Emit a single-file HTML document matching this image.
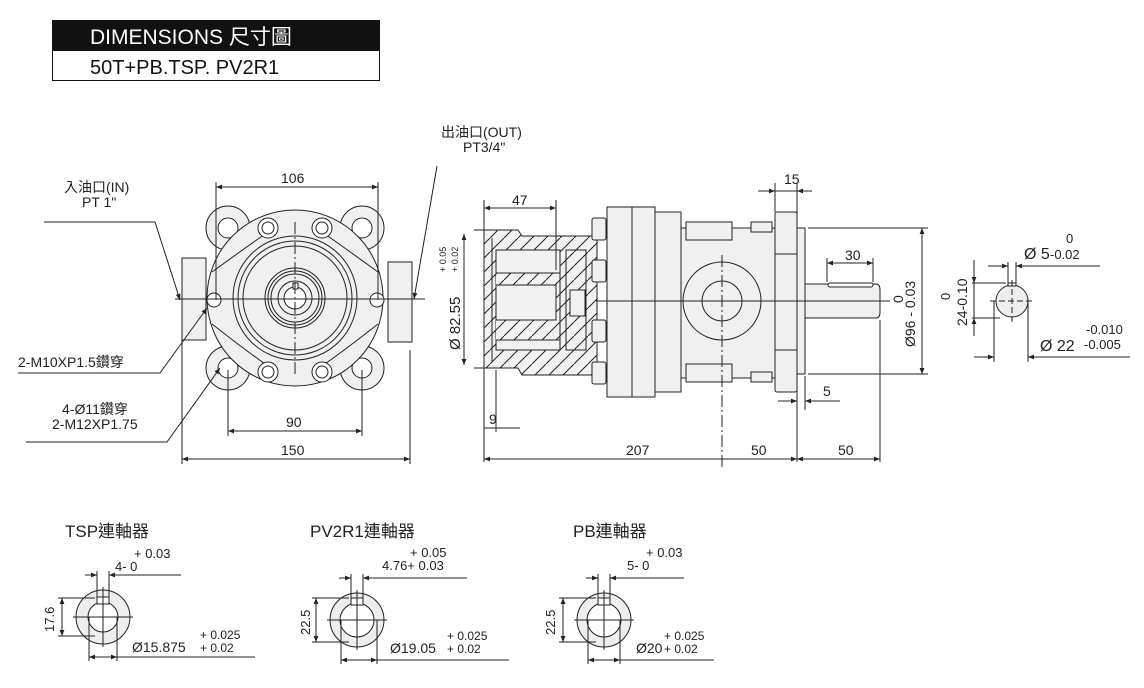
<!DOCTYPE html>
<html><head><meta charset="utf-8"><style>
html,body{margin:0;padding:0;background:#fff;}
svg{display:block;font-family:"Liberation Sans","Noto Sans CJK TC",sans-serif;}
</style></head><body>
<svg width="1144" height="688" viewBox="0 0 1144 688" xmlns="http://www.w3.org/2000/svg">
<defs>
<marker id="a" viewBox="0 0 10 10" refX="10" refY="5" markerWidth="9" markerHeight="6" orient="auto-start-reverse" markerUnits="userSpaceOnUse"><path d="M0,1 L10,5 L0,9 z" fill="#222"/></marker>
<pattern id="h" width="14" height="14" patternUnits="userSpaceOnUse"><rect width="14" height="14" fill="#f2f2f2"/><path d="M0,14 L14,0" stroke="#222" stroke-width="1"/></pattern>
</defs>
<!-- header -->
<rect x="52" y="20" width="328" height="30" fill="#111"/>
<rect x="52.5" y="50.5" width="327" height="30" fill="#fff" stroke="#111"/>
<text x="90" y="44" fill="#fff" font-size="21">DIMENSIONS  尺寸圖</text>
<text x="90" y="74" fill="#111" font-size="20">50T+PB.TSP.  PV2R1</text>

<g stroke="#222" stroke-width="1" fill="none">
<!-- FRONT VIEW -->
<rect x="182" y="258" width="24" height="82" fill="#f0f0f0"/>
<rect x="388" y="262" width="24" height="80" fill="#f0f0f0"/>
<circle cx="228" cy="228" r="22" fill="#f0f0f0"/><circle cx="228" cy="228" r="10" fill="#fff"/>
<circle cx="362" cy="228" r="22" fill="#f0f0f0"/><circle cx="362" cy="228" r="10" fill="#fff"/>
<circle cx="228" cy="368" r="22" fill="#f0f0f0"/><circle cx="228" cy="368" r="10" fill="#fff"/>
<circle cx="362" cy="368" r="22" fill="#f0f0f0"/><circle cx="362" cy="368" r="10" fill="#fff"/>
<circle cx="295" cy="298" r="88" fill="#f0f0f0"/>
<path d="M212,272 Q245,248 268,232 M378,272 Q345,248 322,232 M212,324 Q245,350 268,366 M378,324 Q345,350 322,366"/>
<circle cx="268" cy="228" r="10" fill="#fff"/><circle cx="268" cy="228" r="6"/>
<circle cx="322" cy="228" r="10" fill="#fff"/><circle cx="322" cy="228" r="6"/>
<circle cx="268" cy="372" r="10" fill="#fff"/><circle cx="268" cy="372" r="6"/>
<circle cx="322" cy="372" r="10" fill="#fff"/><circle cx="322" cy="372" r="6"/>
<circle cx="295" cy="298" r="62"/><circle cx="295" cy="298" r="57"/><circle cx="295" cy="298" r="52"/>
<circle cx="295" cy="298" r="30"/><circle cx="295" cy="298" r="27"/><circle cx="295" cy="298" r="24"/><circle cx="295" cy="298" r="17"/><circle cx="295" cy="298" r="11" fill="#fff"/>
<rect x="293" y="283" width="5" height="6" fill="#fff"/>
<circle cx="214" cy="300" r="7" fill="#fff"/><circle cx="377" cy="300" r="7" fill="#fff"/>
<line x1="175" y1="299" x2="425" y2="299"/><line x1="295" y1="222" x2="295" y2="375" stroke-dasharray="12,3,2,3"/>
<!-- front dims -->
<line x1="216" y1="182" x2="216" y2="300"/><line x1="378" y1="182" x2="378" y2="300"/>
<line x1="216" y1="187" x2="378" y2="187" marker-start="url(#a)" marker-end="url(#a)"/>
<line x1="228" y1="370" x2="228" y2="436"/><line x1="362" y1="370" x2="362" y2="436"/>
<line x1="228" y1="431" x2="362" y2="431" marker-start="url(#a)" marker-end="url(#a)"/>
<line x1="182" y1="340" x2="182" y2="464"/><line x1="410" y1="350" x2="410" y2="464"/>
<line x1="182" y1="459" x2="410" y2="459" marker-start="url(#a)" marker-end="url(#a)"/>
<!-- leaders -->
<polyline points="44,222 155,222 180,300" marker-end="url(#a)"/>
<polyline points="18,373 160,373 207,308" marker-end="url(#a)"/>
<polyline points="26,442 167,442 220,368" marker-end="url(#a)"/>
<polyline points="437,166 414,299" marker-end="url(#a)"/>

<!-- SIDE VIEW -->
<path d="M484,230 L518,230 L522,236 L597,236 L597,375 L522,375 L518,368 L484,368 Z" fill="url(#h)"/>
<rect x="496" y="250" width="64" height="100" fill="#f2f2f2"/>
<path d="M496,273 L560,273 L560,340 L496,340" fill="url(#h)"/>
<rect x="496" y="285" width="60" height="35" fill="#f2f2f2"/>
<rect x="566" y="250" width="20" height="100" fill="url(#h)"/>
<rect x="570" y="290" width="15" height="26" fill="#f2f2f2"/>
<line x1="492" y1="238" x2="492" y2="362"/>
<rect x="592" y="218" width="14" height="22" rx="2" fill="#f0f0f0"/>
<rect x="592" y="260" width="14" height="22" rx="2" fill="#f0f0f0"/>
<rect x="592" y="320" width="14" height="22" rx="2" fill="#f0f0f0"/>
<rect x="592" y="362" width="14" height="22" rx="2" fill="#f0f0f0"/>
<rect x="607" y="207" width="48" height="190" fill="#f0f0f0"/><line x1="632" y1="207" x2="632" y2="397"/>
<rect x="655" y="212" width="26" height="180" fill="#f0f0f0"/>
<rect x="681" y="228" width="94" height="150" fill="#f0f0f0"/>
<rect x="686" y="222" width="46" height="18" fill="#f0f0f0"/><rect x="686" y="364" width="46" height="18" fill="#f0f0f0"/>
<rect x="751" y="222" width="21" height="10" fill="#f0f0f0"/><rect x="751" y="372" width="21" height="10" fill="#f0f0f0"/>
<circle cx="722" cy="301" r="39"/><circle cx="722" cy="301" r="20"/>
<rect x="775" y="212" width="22" height="180" rx="2" fill="#f0f0f0"/>
<line x1="775" y1="254" x2="797" y2="254"/><line x1="775" y1="350" x2="797" y2="350"/>
<rect x="797" y="228" width="8" height="146" fill="#f0f0f0"/>
<path d="M805,284 L876,284 Q880,284 880,290 L880,312 Q880,318 876,318 L805,318 Z" fill="#f0f0f0"/>
<rect x="828" y="283" width="45" height="4" rx="2" fill="#fff"/>
<line x1="596" y1="301" x2="890" y2="301"/><line x1="722" y1="255" x2="722" y2="470" stroke-dasharray="12,3,2,3"/>
<!-- side dims -->
<line x1="484" y1="200" x2="484" y2="462"/><line x1="556" y1="200" x2="556" y2="270"/>
<line x1="484" y1="208" x2="556" y2="208" marker-start="url(#a)" marker-end="url(#a)"/>
<line x1="474" y1="230" x2="484" y2="230"/><line x1="474" y1="368" x2="484" y2="368"/>
<line x1="464" y1="234" x2="464" y2="365" marker-start="url(#a)" marker-end="url(#a)"/>
<line x1="496" y1="370" x2="496" y2="432"/>
<line x1="484" y1="428" x2="496" y2="428"/><line x1="496" y1="428" x2="520" y2="428"/>
<line x1="775" y1="183" x2="775" y2="212"/><line x1="797" y1="183" x2="797" y2="462"/>
<line x1="758" y1="191" x2="775" y2="191" marker-end="url(#a)"/><line x1="812" y1="191" x2="797" y2="191" marker-end="url(#a)"/>
<line x1="775" y1="191" x2="797" y2="191"/>
<line x1="827" y1="258" x2="827" y2="282"/><line x1="873" y1="258" x2="873" y2="282"/>
<line x1="827" y1="263" x2="873" y2="263" marker-start="url(#a)" marker-end="url(#a)"/>
<line x1="808" y1="228" x2="928" y2="228"/><line x1="808" y1="374" x2="928" y2="374"/>
<line x1="922" y1="228" x2="922" y2="374" marker-start="url(#a)" marker-end="url(#a)"/>
<line x1="805" y1="376" x2="805" y2="410"/>
<line x1="778" y1="401" x2="797" y2="401" marker-end="url(#a)"/><line x1="840" y1="401" x2="805" y2="401" marker-end="url(#a)"/>
<line x1="880" y1="320" x2="880" y2="462"/>
<line x1="484" y1="459" x2="797" y2="459" marker-start="url(#a)" marker-end="url(#a)"/>
<line x1="797" y1="459" x2="880" y2="459" marker-start="url(#a)" marker-end="url(#a)"/>

<!-- KEY VIEW -->
<circle cx="1012" cy="301" r="16" fill="#eee"/>
<rect x="1008" y="283" width="8" height="3" fill="#fff"/>
<line x1="990" y1="301" x2="1034" y2="301" stroke-dasharray="6,3"/><line x1="1012" y1="280" x2="1012" y2="322" stroke-dasharray="6,3"/>
<line x1="1008" y1="262" x2="1008" y2="283"/><line x1="1016" y1="262" x2="1016" y2="283"/>
<line x1="988" y1="266" x2="1008" y2="266" marker-end="url(#a)"/><line x1="1035" y1="266" x2="1016" y2="266" marker-end="url(#a)"/><line x1="1035" y1="266" x2="1100" y2="266"/>
<line x1="972" y1="283" x2="1006" y2="283"/><line x1="972" y1="318" x2="1000" y2="318"/>
<line x1="974" y1="260" x2="974" y2="336"/><line x1="974" y1="270" x2="974" y2="283" marker-end="url(#a)"/><line x1="974" y1="330" x2="974" y2="318" marker-end="url(#a)"/>
<line x1="994" y1="301" x2="994" y2="362"/><line x1="1028" y1="301" x2="1028" y2="362"/>
<line x1="974" y1="357" x2="994" y2="357" marker-end="url(#a)"/><line x1="1050" y1="357" x2="1028" y2="357" marker-end="url(#a)"/><line x1="1050" y1="357" x2="1130" y2="357"/>
</g>

<!-- couplings -->
<g transform="translate(103,617)" stroke="#222" stroke-width="1" fill="none">
<circle r="27" fill="#eee"/><circle r="15" fill="#fff"/>
<rect x="-6" y="-20" width="12" height="7" fill="#fff"/>
<line x1="-30" y1="0" x2="30" y2="0"/><line x1="0" y1="-30" x2="0" y2="30"/>
<line x1="-6" y1="-20" x2="-6" y2="-46"/><line x1="6" y1="-20" x2="6" y2="-46"/>
<line x1="-18" y1="-42" x2="-6" y2="-42" marker-end="url(#a)"/><line x1="22" y1="-42" x2="6" y2="-42" marker-end="url(#a)"/><line x1="22" y1="-42" x2="78" y2="-42"/>
<line x1="-45" y1="-19" x2="-8" y2="-19"/><line x1="-45" y1="19" x2="-8" y2="19"/>
<line x1="-41" y1="-19" x2="-41" y2="19" marker-start="url(#a)" marker-end="url(#a)"/>
<line x1="-14" y1="0" x2="-14" y2="44"/><line x1="14" y1="0" x2="14" y2="44"/>
<line x1="-14" y1="40" x2="14" y2="40" marker-start="url(#a)" marker-end="url(#a)"/><line x1="14" y1="40" x2="152" y2="40"/>
</g>
<g transform="translate(357,620)" stroke="#222" stroke-width="1" fill="none">
<circle r="27" fill="#eee"/><circle r="17" fill="#fff"/>
<rect x="-6" y="-22" width="12" height="7" fill="#fff"/>
<line x1="-30" y1="0" x2="30" y2="0"/><line x1="0" y1="-30" x2="0" y2="30"/>
<line x1="-6" y1="-22" x2="-6" y2="-46"/><line x1="6" y1="-22" x2="6" y2="-46"/>
<line x1="-18" y1="-42" x2="-6" y2="-42" marker-end="url(#a)"/><line x1="22" y1="-42" x2="6" y2="-42" marker-end="url(#a)"/><line x1="22" y1="-42" x2="110" y2="-42"/>
<line x1="-45" y1="-22" x2="-8" y2="-22"/><line x1="-45" y1="22" x2="-8" y2="22"/>
<line x1="-41" y1="-22" x2="-41" y2="22" marker-start="url(#a)" marker-end="url(#a)"/>
<line x1="-16" y1="0" x2="-16" y2="44"/><line x1="20" y1="0" x2="20" y2="44"/>
<line x1="-16" y1="40" x2="20" y2="40" marker-start="url(#a)" marker-end="url(#a)"/><line x1="20" y1="40" x2="152" y2="40"/>
</g>
<g transform="translate(604,620)" stroke="#222" stroke-width="1" fill="none">
<circle r="27" fill="#eee"/><circle r="17" fill="#fff"/>
<rect x="-6" y="-22" width="12" height="7" fill="#fff"/>
<line x1="-30" y1="0" x2="30" y2="0"/><line x1="0" y1="-30" x2="0" y2="30"/>
<line x1="-6" y1="-22" x2="-6" y2="-46"/><line x1="6" y1="-22" x2="6" y2="-46"/>
<line x1="-18" y1="-42" x2="-6" y2="-42" marker-end="url(#a)"/><line x1="22" y1="-42" x2="6" y2="-42" marker-end="url(#a)"/><line x1="22" y1="-42" x2="80" y2="-42"/>
<line x1="-45" y1="-22" x2="-8" y2="-22"/><line x1="-45" y1="22" x2="-8" y2="22"/>
<line x1="-41" y1="-22" x2="-41" y2="22" marker-start="url(#a)" marker-end="url(#a)"/>
<line x1="-16" y1="0" x2="-16" y2="44"/><line x1="16" y1="0" x2="16" y2="44"/>
<line x1="-16" y1="40" x2="16" y2="40" marker-start="url(#a)" marker-end="url(#a)"/><line x1="16" y1="40" x2="110" y2="40"/>
</g>

<g fill="#222" font-size="14">
<text x="281" y="183">106</text>
<text x="286" y="427">90</text>
<text x="281" y="455">150</text>
<text x="64" y="192">入油口(IN)</text><text x="82" y="207">PT  1"</text>
<text x="441" y="137">出油口(OUT)</text><text x="463" y="152">PT3/4"</text>
<text x="18" y="367">2-M10XP1.5鑽穿</text>
<text x="62" y="414">4-Ø11鑽穿</text><text x="52" y="429">2-M12XP1.75</text>
<text x="512" y="205">47</text>
<text x="784" y="184">15</text>
<text x="845" y="260">30</text>
<text x="823" y="396">5</text>
<text x="489" y="424">9</text>
<text x="626" y="455">207</text>
<text x="751" y="455">50</text>
<text x="838" y="455">50</text>
<text transform="translate(460,350) rotate(-90)" font-size="15">Ø 82.55</text>
<text transform="translate(446,272) rotate(-90)" font-size="9">+ 0.05</text>
<text transform="translate(458,272) rotate(-90)" font-size="9">+ 0.02</text>
<text transform="translate(915,347) rotate(-90)">Ø96 - 0.03</text>
<text transform="translate(903,303) rotate(-90)">0</text>
<text x="1066" y="243" font-size="13">0</text>
<text x="1024" y="259" font-size="16">Ø 5</text><text x="1050" y="259" font-size="13">-0.02</text>
<text transform="translate(967,326) rotate(-90)" font-size="14">24-0.10</text>
<text transform="translate(950,300) rotate(-90)" font-size="13">0</text>
<text x="1040" y="351" font-size="16">Ø 22</text><text x="1086" y="334" font-size="13">-0.010</text><text x="1084" y="349" font-size="13">-0.005</text>
<text x="65" y="537" font-size="17">TSP連軸器</text>
<text x="310" y="537" font-size="17">PV2R1連軸器</text>
<text x="573" y="537" font-size="17">PB連軸器</text>
<text x="134" y="558" font-size="13">+ 0.03</text><text x="115" y="571" font-size="13">4-  0</text>
<text transform="translate(54,632) rotate(-90)" font-size="13">17.6</text>
<text x="132" y="652" font-size="14">Ø15.875</text><text x="200" y="639" font-size="12">+ 0.025</text><text x="200" y="652" font-size="12">+ 0.02</text>
<text x="410" y="557" font-size="13">+ 0.05</text><text x="382" y="570" font-size="13">4.76+ 0.03</text>
<text transform="translate(310,635) rotate(-90)" font-size="13">22.5</text>
<text x="390" y="653" font-size="14">Ø19.05</text><text x="447" y="640" font-size="12">+ 0.025</text><text x="447" y="653" font-size="12">+ 0.02</text>
<text x="646" y="557" font-size="13">+ 0.03</text><text x="627" y="570" font-size="13">5-  0</text>
<text transform="translate(555,635) rotate(-90)" font-size="13">22.5</text>
<text x="636" y="653" font-size="14">Ø20</text><text x="664" y="640" font-size="12">+ 0.025</text><text x="664" y="653" font-size="12">+ 0.02</text>
</g>
</svg>
</body></html>
